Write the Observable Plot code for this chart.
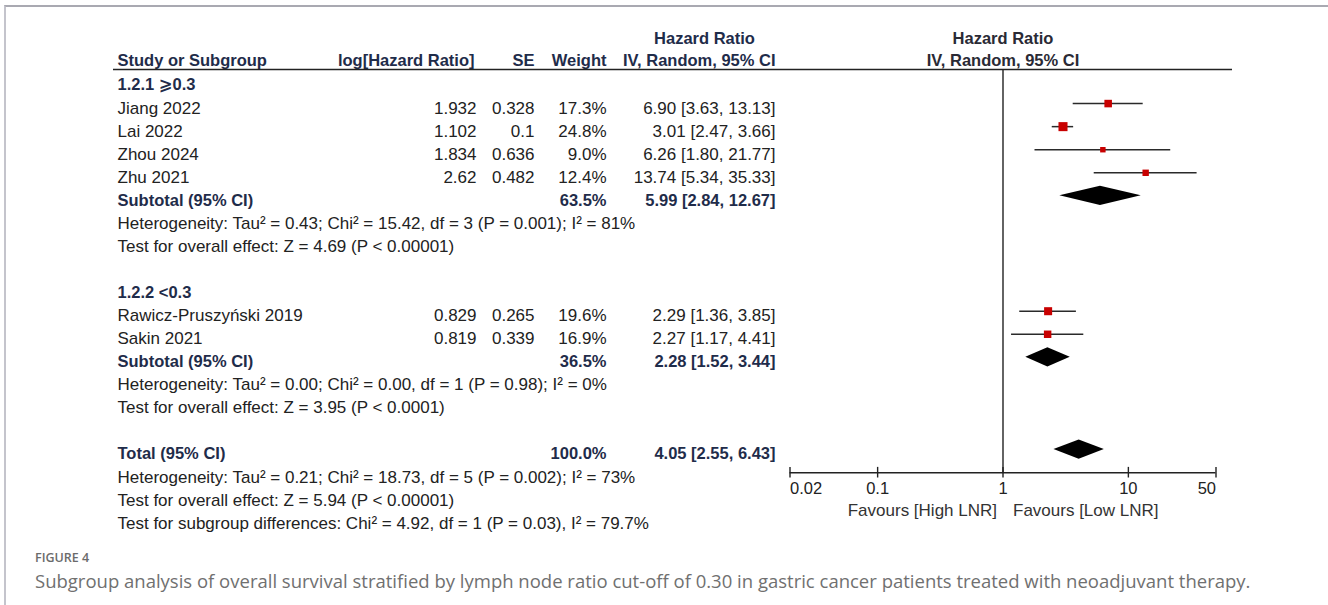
<!DOCTYPE html>
<html>
<head>
<meta charset="utf-8">
<script src="https://cdn.jsdelivr.net/npm/d3@7"></script>
<script src="https://cdn.jsdelivr.net/npm/@observablehq/plot@0.6"></script>
<style>
  body { margin: 0; background: #fff; }
  #page { position: relative; width: 1328px; height: 605px; overflow: hidden; background: #fff; }
  #frame { position: absolute; left: 4px; top: 5px; width: 1330px; height: 610px;
           border-top: 2px solid #a9a9b1; border-left: 2px solid #c4c4cc; }
  .layer { position: absolute; left: 0; top: 0; }
  #fignum { position: absolute; left: 35px; top: 549px; font: 600 12.5px "Open Sans", sans-serif; color: #6b6b6b; }
  #caption { position: absolute; left: 35px; top: 568px; font: 400 18.5px "Open Sans", sans-serif; color: #707070; white-space: nowrap; }
</style>
</head>
<body>
<div id="page">
  <div id="frame"></div>
  <div id="leftLayer" class="layer"></div>
  <div id="rightLayer" class="layer"></div>
  <div id="fignum">FIGURE 4</div>
  <div id="caption">Subgroup analysis of overall survival stratified by lymph node ratio cut-off of 0.30 in gastric cancer patients treated with neoadjuvant therapy.</div>
</div>
<script>
// ---------------- DATA ----------------
const studies   = ["Jiang 2022", "Lai 2022", "Zhou 2024", "Zhu 2021", "Rawicz-Pruszyński 2019", "Sakin 2021"];
const studyGroup = [1, 1, 1, 1, 2, 2];
const logHR     = [1.932, 1.102, 1.834, 2.62, 0.829, 0.819];
const se        = [0.328, 0.1, 0.636, 0.482, 0.265, 0.339];
const weight    = [17.3, 24.8, 9.0, 12.4, 19.6, 16.9];
const hr        = [6.90, 3.01, 6.26, 13.74, 2.29, 2.27];
const hrLower   = [3.63, 2.47, 1.80, 5.34, 1.36, 1.17];
const hrUpper   = [13.13, 3.66, 21.77, 35.33, 3.85, 4.41];

const groupLabels = ["1.2.1 ⩾0.3", "1.2.2 <0.3"];
const pooledLabels = ["Subtotal (95% CI)", "Subtotal (95% CI)", "Total (95% CI)"];
const pooledWeight = [63.5, 36.5, 100.0];
const pooledHR     = [5.99, 2.28, 4.05];
const pooledLower  = [2.84, 1.52, 2.55];
const pooledUpper  = [12.67, 3.44, 6.43];

const group1Stats = [
  "Heterogeneity: Tau² = 0.43; Chi² = 15.42, df = 3 (P = 0.001); I² = 81%",
  "Test for overall effect: Z = 4.69 (P < 0.00001)"
];
const group2Stats = [
  "Heterogeneity: Tau² = 0.00; Chi² = 0.00, df = 1 (P = 0.98); I² = 0%",
  "Test for overall effect: Z = 3.95 (P < 0.0001)"
];
const totalStats = [
  "Heterogeneity: Tau² = 0.21; Chi² = 18.73, df = 5 (P = 0.002); I² = 73%",
  "Test for overall effect: Z = 5.94 (P < 0.00001)",
  "Test for subgroup differences: Chi² = 4.92, df = 1 (P = 0.03), I² = 79.7%"
];

const headerTop = ["Hazard Ratio"];
const headerCols = ["Study or Subgroup", "log[Hazard Ratio]", "SE", "Weight", "IV, Random, 95% CI"];
const forestHeader = ["Hazard Ratio", "IV, Random, 95% CI"];
const tickValues = [0.02, 0.1, 1, 10, 50];
const tickLabels = ["0.02", "0.1", "1", "10", "50"];
const favoursLabels = ["Favours [High LNR]", "Favours [Low LNR]"];

// ---------------- LAYOUT ----------------
const W = 1328, H = 540;
const Y0 = 80, STEP = 23.07;          // pixel of row 0 centre, row pitch
const FONT = "'Liberation Sans', Arial, 'DejaVu Sans', sans-serif";
const COL = { study: 117, logHR: 476, se: 534, weight: 606, ci: 775, hrTop: 704 };
const ROW_HEAD1 = -2.0, ROW_HEAD2 = -1.05, ROW_RULE = -0.48;
const ROW_AXIS = 17, ROW_TICKLAB = 17.5, ROW_FAV = 18.45;
const TICK_HALF = 0.23, DIAMOND_HALF = 0.42;
const TXT_DY = 4.5;
const INK = "#222", NAVY = "#1f2c4a";
const fmt2 = v => v.toFixed(2);
const ciText = (e, l, u) => `${fmt2(e)} [${fmt2(l)}, ${fmt2(u)}]`;

// build table rows
const rows = [];
let r = 0;
[1, 2].forEach((g, gi) => {
  rows.push({ row: r++, kind: "group", label: groupLabels[gi] });
  studies.forEach((s, i) => {
    if (studyGroup[i] === g) rows.push({ row: r++, kind: "study", i });
  });
  rows.push({ row: r++, kind: "pooled", p: gi });
  (g === 1 ? group1Stats : group2Stats).forEach(t => rows.push({ row: r++, kind: "stat", label: t }));
  r++; // blank line
});
rows.push({ row: r++, kind: "pooled", p: 2 });
totalStats.forEach(t => rows.push({ row: r++, kind: "stat", label: t }));

const studyRows = rows.filter(d => d.kind === "study").map(d => ({
  row: d.row, name: studies[d.i], logHR: logHR[d.i], se: se[d.i], weight: weight[d.i],
  hr: hr[d.i], lo: hrLower[d.i], hi: hrUpper[d.i]
}));
const pooledRows = rows.filter(d => d.kind === "pooled").map(d => ({
  row: d.row, name: pooledLabels[d.p], weight: pooledWeight[d.p],
  hr: pooledHR[d.p], lo: pooledLower[d.p], hi: pooledUpper[d.p]
}));
const groupRows = rows.filter(d => d.kind === "group");
const statRows = rows.filter(d => d.kind === "stat");

const yScale = { type: "linear", domain: [0, 20], range: [Y0, Y0 + 20 * STEP], axis: null };
const txt = (data, opts) => Plot.text(data, { fontSize: 17, fill: INK, dy: TXT_DY, ...opts });

// ---------------- LEFT: TABLE ----------------
const left = Plot.plot({
  width: W, height: H, margin: 0,
  style: { fontFamily: FONT, background: "transparent", overflow: "visible" },
  x: { type: "linear", domain: [0, W], range: [0, W], axis: null },
  y: yScale,
  marks: [
    // headers
    txt(headerTop, { x: COL.hrTop, y: ROW_HEAD1, text: d => d, textAnchor: "middle", fontWeight: "bold", fontSize: 16.5, fill: NAVY }),
    txt(headerCols, {
      x: (d, i) => [COL.study, COL.logHR - 2, COL.se, COL.weight, COL.ci][i],
      y: ROW_HEAD2, text: d => d,
      textAnchor: "end", fontWeight: "bold", fontSize: 16.5, fill: NAVY,
      filter: (d, i) => i > 0
    }),
    txt(headerCols.slice(0, 1), { x: COL.study, y: ROW_HEAD2, text: d => d, textAnchor: "start", fontWeight: "bold", fontSize: 16.5, fill: NAVY }),
    Plot.ruleY([ROW_RULE], { x1: 113, x2: 1232, stroke: "#222", strokeWidth: 1.6 }),
    // group headers
    txt(groupRows, { x: COL.study, y: "row", text: "label", textAnchor: "start", fontWeight: "bold", fontSize: 16.5, fill: NAVY }),
    // studies
    txt(studyRows, { x: COL.study, y: "row", text: "name", textAnchor: "start" }),
    txt(studyRows, { x: COL.logHR, y: "row", text: d => String(d.logHR), textAnchor: "end" }),
    txt(studyRows, { x: COL.se, y: "row", text: d => String(d.se), textAnchor: "end" }),
    txt(studyRows, { x: COL.weight, y: "row", text: d => d.weight.toFixed(1) + "%", textAnchor: "end" }),
    txt(studyRows, { x: COL.ci, y: "row", text: d => ciText(d.hr, d.lo, d.hi), textAnchor: "end" }),
    // pooled
    txt(pooledRows, { x: COL.study, y: "row", text: "name", textAnchor: "start", fontWeight: "bold", fontSize: 16.5, fill: NAVY }),
    txt(pooledRows, { x: COL.weight, y: "row", text: d => d.weight.toFixed(1) + "%", textAnchor: "end", fontWeight: "bold", fontSize: 16.5, fill: NAVY }),
    txt(pooledRows, { x: COL.ci, y: "row", text: d => ciText(d.hr, d.lo, d.hi), textAnchor: "end", fontWeight: "bold", fontSize: 16.5, fill: NAVY }),
    // statistics
    txt(statRows, { x: COL.study, y: "row", text: "label", textAnchor: "start" })
  ]
});
document.getElementById("leftLayer").appendChild(left);

// ---------------- RIGHT: FOREST ----------------
const diamondPts = pooledRows.flatMap((d, k) => [
  { k, x: d.lo, y1: d.row, y2: d.row },
  { k, x: d.hr, y1: d.row - DIAMOND_HALF, y2: d.row + DIAMOND_HALF },
  { k, x: d.hi, y1: d.row, y2: d.row }
]);

const right = Plot.plot({
  width: W, height: H, margin: 0,
  style: { fontFamily: FONT, background: "transparent", overflow: "visible" },
  x: { type: "log", domain: [tickValues[0], tickValues[tickValues.length - 1]], range: [789.5, 1215.5], axis: null },
  y: yScale,
  r: { type: "sqrt", domain: [0, d3.max(weight)], range: [0, 5.1] },
  marks: [
    txt(forestHeader, { x: 1, y: (d, i) => [ROW_HEAD1, ROW_HEAD2][i], text: d => d, textAnchor: "middle", fontWeight: "bold", fontSize: 16.5, fill: "#2a2a35" }),
    Plot.ruleX([1], { y1: ROW_RULE, y2: ROW_AXIS, stroke: "#222", strokeWidth: 1.4 }),
    // axis
    Plot.ruleY([ROW_AXIS], { x1: tickValues[0], x2: tickValues[tickValues.length - 1], stroke: "#222", strokeWidth: 1.4 }),
    Plot.ruleX(tickValues, { y1: ROW_AXIS - TICK_HALF, y2: ROW_AXIS + TICK_HALF, stroke: "#222", strokeWidth: 1.4 }),
    txt(tickValues, { x: d => d, y: ROW_TICKLAB, text: (d, i) => tickLabels[i], textAnchor: "start", fontSize: 16.5, filter: (d, i) => i === 0 }),
    txt(tickValues, { x: d => d, y: ROW_TICKLAB, text: (d, i) => tickLabels[i], textAnchor: "middle", fontSize: 16.5, filter: (d, i) => i > 0 && i < tickValues.length - 1 }),
    txt(tickValues, { x: d => d, y: ROW_TICKLAB, text: (d, i) => tickLabels[i], textAnchor: "end", fontSize: 16.5, filter: (d, i) => i === tickValues.length - 1 }),
    txt(favoursLabels.slice(0, 1), { x: 1, y: ROW_FAV, text: d => d, textAnchor: "end", dx: -6, fontSize: 17, fill: "#333" }),
    txt(favoursLabels.slice(1), { x: 1, y: ROW_FAV, text: d => d, textAnchor: "start", dx: 10, fontSize: 17, fill: "#333" }),
    // study CIs and squares
    Plot.ruleY(studyRows, { y: "row", x1: "lo", x2: "hi", stroke: "#2a2a2a", strokeWidth: 1.5 }),
    Plot.dot(studyRows, { x: "hr", y: "row", r: "weight", symbol: "square", fill: "#c80000", stroke: "none" }),
    // pooled diamonds
    Plot.areaY(diamondPts, { x: "x", y1: "y1", y2: "y2", z: "k", fill: "#000", curve: "linear" })
  ]
});
document.getElementById("rightLayer").appendChild(right);
</script>
</body>
</html>
